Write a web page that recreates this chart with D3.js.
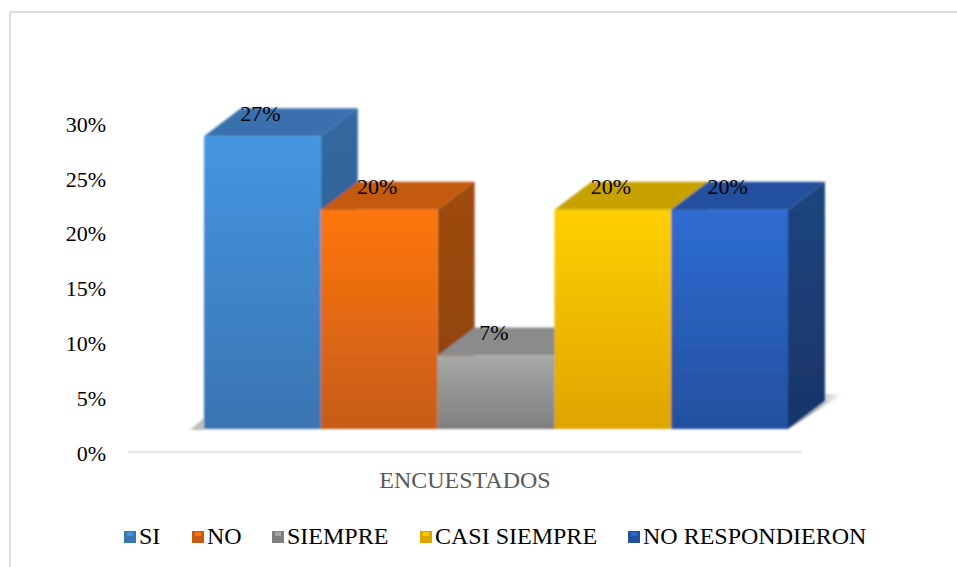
<!DOCTYPE html>
<html><head><meta charset="utf-8">
<script src="https://cdnjs.cloudflare.com/ajax/libs/d3/7.8.5/d3.min.js"></script>
<style>html,body{margin:0;background:#fff}svg{display:block}text{font-family:"Liberation Serif",serif}</style>
</head><body><svg id="c" width="957" height="567"></svg>
<script>
const categories = ["SI","NO","SIEMPRE","CASI SIEMPRE","NO RESPONDIERON"];
const values = [26.7,20,6.7,20,20];
const labels = ["27%","20%","7%","20%","20%"];
const ticks = [0,5,10,15,20,25,30];
const axisTitle = "ENCUESTADOS";
const frontTop = ["#4596e2","#ff7610","#a8a8a8","#ffcf00","#2e6dd2"];
const frontBottom = ["#3a74b1","#c65c14","#7f7f7f","#dea500","#24509f"];
const topFace = ["#3871ae","#c45a08","#8b8b8b","#c7a100","#234f9e"];
const sideTop = ["#33699f","#a04c0c","#6f6f6f","#a08000","#20467f"];
const sideBottom = ["#2a5a8c","#8a4208","#5f5f5f","#8c7000","#183468"];
const legendX = [124,192,272,420,628];

const svg = d3.select("#c");
const defs = svg.append("defs");
svg.append("path").attr("fill","none").attr("stroke","#dcdcdc").attr("stroke-width",2)
  .attr("d",d3.line()([[10,567],[10,12],[957,12]]));

const y = d3.scaleLinear().domain([0,30]).range([453,124]);
const lift = 24, dx = 37, dy = 28;
const x = d3.scaleBand().domain(categories).range([204,788]);

categories.forEach((c,i)=>{
  const g=defs.append("linearGradient").attr("id","f"+i).attr("x1",0).attr("y1",0).attr("x2",0).attr("y2",1);
  g.append("stop").attr("offset",0).attr("stop-color",frontTop[i]);
  g.append("stop").attr("offset",1).attr("stop-color",frontBottom[i]);
  const s=defs.append("linearGradient").attr("id","s"+i).attr("x1",0).attr("y1",0).attr("x2",0).attr("y2",1);
  s.append("stop").attr("offset",0).attr("stop-color",sideTop[i]);
  s.append("stop").attr("offset",1).attr("stop-color",sideBottom[i]);
});
const sh=defs.append("linearGradient").attr("id","shadow").attr("x1",0).attr("y1",0).attr("x2",1).attr("y2",0);
sh.append("stop").attr("offset",0).attr("stop-color","#6a6a6a");
sh.append("stop").attr("offset",1).attr("stop-color","#fff");
const bl=defs.append("filter").attr("id","blur");
bl.append("feGaussianBlur").attr("stdDeviation",.8);

svg.append("line").attr("x1",128).attr("x2",802).attr("y1",y(0)-1).attr("y2",y(0)-1)
  .attr("stroke","#e8e8e8").attr("stroke-width",2.5);

const base = y(0)-lift;
const xEnd = x(categories[4])+x.bandwidth();
svg.append("path").attr("fill","url(#shadow)").attr("filter","url(#blur)")
  .attr("d",d3.line()([[xEnd,base],[xEnd+dx,base-dy],[xEnd+dx,base-35],[xEnd+55,base-35]]));
svg.append("path").attr("fill","#bdbdbd").attr("filter","url(#blur)")
  .attr("d",d3.line()([[190,base+1],[204,base-11],[204,base+1]]));

const bars = svg.append("g").attr("filter","url(#blur)").selectAll("g").data(categories).join("g");
bars.each(function(c,i){
  const g=d3.select(this), x0=x(c), x1=x0+x.bandwidth(), t=y(values[i])-lift;
  g.append("path").attr("fill",topFace[i])
    .attr("d",d3.line()([[x0,t],[x0+dx,t-dy],[x1+dx,t-dy],[x1,t]]));
  g.append("path").attr("fill",`url(#s${i})`)
    .attr("d",d3.line()([[x1,t],[x1+dx,t-dy],[x1+dx,base-dy],[x1,base]]));
  g.append("rect").attr("x",x0).attr("y",t).attr("width",x.bandwidth()).attr("height",base-t)
    .attr("fill",`url(#f${i})`);
});

svg.append("g").selectAll("text").data(ticks).join("text")
  .attr("x",106).attr("y",d=>y(d)).attr("dy","0.35em").attr("text-anchor","end")
  .attr("font-size",22).attr("fill","#000").text(d=>d+"%");

svg.append("g").selectAll("text").data(categories).join("text")
  .attr("x",c=>x(c)+x.bandwidth()/2-2)
  .attr("y",(c,i)=>y(values[i])-lift-23).attr("dy","0.35em").attr("text-anchor","middle")
  .attr("font-size",22).attr("fill","#000").text((c,i)=>labels[i]);

svg.append("text").attr("x",465).attr("y",488).attr("text-anchor","middle")
  .attr("font-size",24).attr("fill","#595959").text(axisTitle);

const lg=svg.append("g").selectAll("g").data(categories).join("g")
  .attr("transform",(c,i)=>`translate(${legendX[i]},0)`);
lg.append("rect").attr("y",531).attr("width",12).attr("height",12).attr("fill",(c,i)=>frontBottom[i]);
lg.append("rect").attr("x",3).attr("y",532).attr("width",6).attr("height",4).attr("fill",(c,i)=>frontTop[i]).attr("opacity",.9);
lg.append("text").attr("x",15).attr("y",543.5).attr("font-size",24).attr("fill","#000").text(c=>c);
</script></body></html>
